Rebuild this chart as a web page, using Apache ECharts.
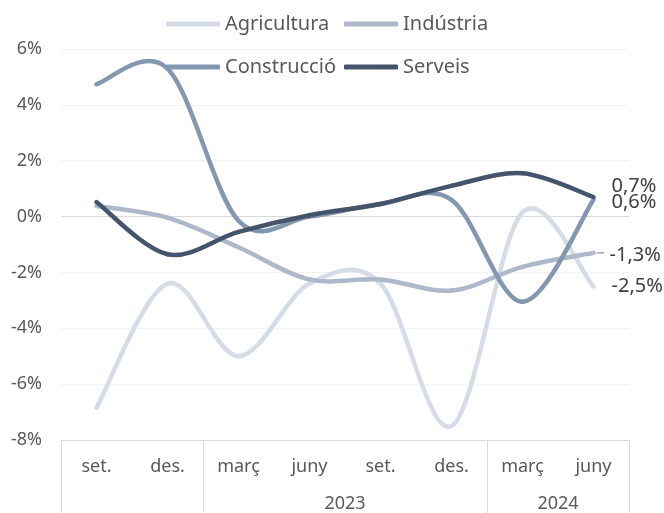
<!DOCTYPE html>
<html>
<head>
<meta charset="utf-8">
<script src="https://cdn.jsdelivr.net/npm/echarts@6/dist/echarts.min.js"></script>
<style>
  html, body { margin: 0; padding: 0; background: #fff; }
  #chart { width: 664px; height: 513px; }
</style>
</head>
<body>
<div id="chart"></div>
<script>
// dades
const months = ['set.', 'des.', 'març', 'juny', 'set.', 'des.', 'març', 'juny'];
const yearLabels = { 4: '2023', 7: '2024' };
const agricultura = [-6.85, -2.4, -5.0, -2.4, -2.4, -7.5, 0.15, -2.5];
const industria = [0.38, -0.04, -1.1, -2.25, -2.25, -2.65, -1.8, -1.3];
const construccio = [4.74, 5.3, -0.15, 0.0, 0.45, 0.6, -3.05, 0.6];
const serveis = [0.52, -1.35, -0.55, 0.05, 0.45, 1.1, 1.55, 0.7];

const fontFam = '"Noto Sans", sans-serif';
const txt = '#595959';

const chart = echarts.init(document.getElementById('chart'));

function fmt(v) {
  return v.toFixed(1).replace('.', ',') + '%';
}

// linia suavitzada tipus Excel (Catmull-Rom) amb etiqueta final
function mkSeries(name, values, color, dy, leader) {
  const n = values.length;
  return {
    name: name,
    type: 'custom',
    data: values.map((v, i) => [i, v]),
    encode: { x: 0, y: 1 },
    itemStyle: { color: color },
    renderItem: function (params, api) {
      if (params.dataIndex !== n - 1) return null;
      const P = values.map((v, i) => api.coord([i, v]));
      const children = [];
      for (let i = 0; i < n - 1; i++) {
        const p0 = P[i > 0 ? i - 1 : i];
        const p1 = P[i];
        const p2 = P[i + 1];
        const p3 = P[i + 2 < n ? i + 2 : i + 1];
        children.push({
          type: 'bezierCurve',
          shape: {
            x1: p1[0], y1: p1[1],
            x2: p2[0], y2: p2[1],
            cpx1: p1[0] + (p2[0] - p0[0]) / 6,
            cpy1: p1[1] + (p2[1] - p0[1]) / 6,
            cpx2: p2[0] - (p3[0] - p1[0]) / 6,
            cpy2: p2[1] - (p3[1] - p1[1]) / 6
          },
          style: { stroke: color, lineWidth: 4.5, fill: null, lineCap: 'round', lineJoin: 'round' }
        });
      }
      const last = P[n - 1];
      if (leader) {
        children.push({
          type: 'line',
          shape: { x1: last[0] + 3, y1: last[1], x2: last[0] + 11, y2: last[1] },
          style: { stroke: '#A6A6A6', lineWidth: 1.5 }
        });
      }
      children.push({
        type: 'text',
        x: last[0] + (leader ? 16 : 18),
        y: last[1] + dy,
        style: {
          text: fmt(values[n - 1]),
          fill: '#404040',
          font: '20px ' + fontFam,
          align: 'left',
          verticalAlign: 'middle'
        }
      });
      return { type: 'group', children: children };
    }
  };
}

const legendText = { color: txt, fontSize: 20, fontFamily: fontFam, lineHeight: 22 };

chart.setOption({
  animation: false,
  grid: { left: 61, right: 35, top: 49, bottom: 73, outerBoundsMode: 'none' },
  legend: [
    {
      data: ['Agricultura', 'Construcció'],
      orient: 'vertical',
      left: 166,
      top: 13,
      padding: 0,
      icon: 'roundRect',
      itemWidth: 54,
      itemHeight: 5,
      itemGap: 21,
      textStyle: legendText
    },
    {
      data: ['Indústria', 'Serveis'],
      orient: 'vertical',
      left: 344,
      top: 13,
      padding: 0,
      icon: 'roundRect',
      itemWidth: 54,
      itemHeight: 5,
      itemGap: 21,
      textStyle: legendText
    }
  ],
  xAxis: [
    {
      type: 'category',
      data: months,
      axisLine: { onZero: false, lineStyle: { color: '#D9D9D9', width: 1 } },
      axisTick: { show: false },
      axisLabel: { color: txt, fontSize: 18, fontFamily: fontFam, margin: 18 }
    },
    {
      type: 'value',
      min: 0,
      max: 8,
      interval: 1,
      position: 'bottom',
      axisLine: { show: false, onZero: false },
      splitLine: { show: false },
      axisTick: {
        show: true,
        length: 73,
        customValues: [0, 2, 6, 8],
        lineStyle: { color: '#D9D9D9', width: 1 }
      },
      axisLabel: {
        customValues: [4, 7],
        formatter: v => yearLabels[v] || '',
        color: txt,
        fontSize: 18,
        fontFamily: fontFam,
        margin: 55
      }
    }
  ],
  yAxis: {
    type: 'value',
    min: -8,
    max: 6,
    interval: 2,
    axisLine: { show: false },
    axisTick: { show: false },
    axisLabel: {
      formatter: v => v + '%',
      color: txt,
      fontSize: 18,
      fontFamily: fontFam,
      margin: 19
    },
    splitLine: {
      lineStyle: {
        color: ['#F2F2F2', '#F2F2F2', '#F2F2F2', '#F2F2F2', '#D9D9D9', '#F2F2F2', '#F2F2F2', '#F2F2F2'],
        width: 1
      }
    }
  },
  series: [
    mkSeries('Agricultura', agricultura, '#D6DCE5', 0, false),
    mkSeries('Indústria', industria, '#ADB9CA', 2, true),
    mkSeries('Construcció', construccio, '#8497B0', 2, false),
    mkSeries('Serveis', serveis, '#44546A', -11, false)
  ]
});
</script>
</body>
</html>
